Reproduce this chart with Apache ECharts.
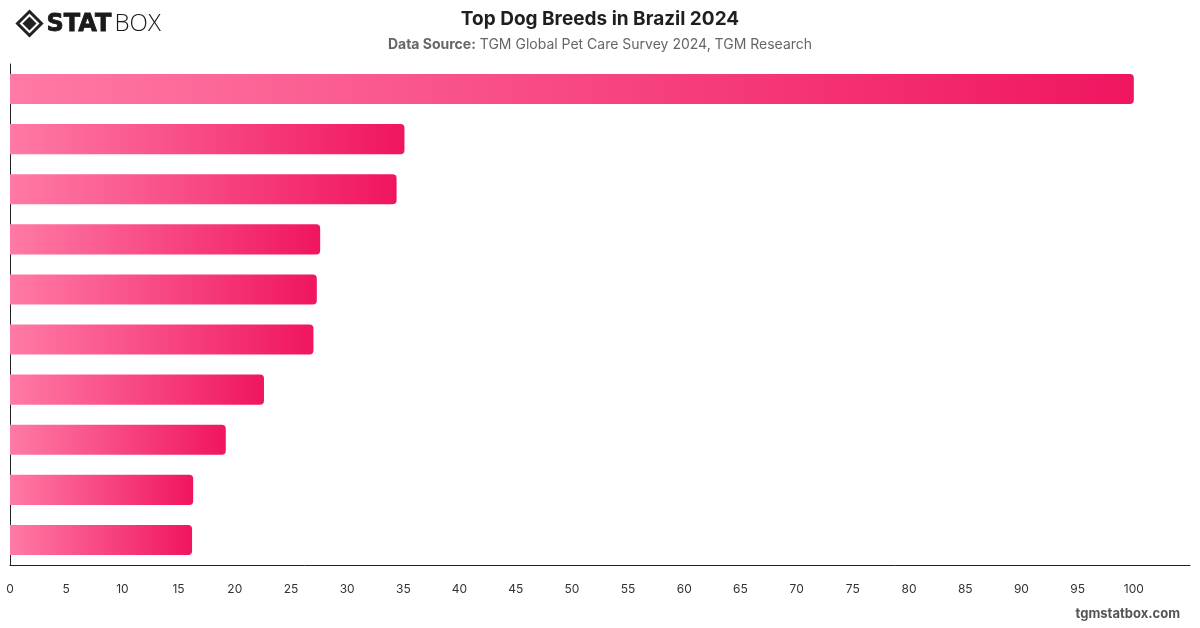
<!DOCTYPE html>
<html>
<head>
<meta charset="utf-8">
<script src="https://cdn.jsdelivr.net/npm/echarts@6/dist/echarts.min.js"></script>
<style>
  html, body { margin: 0; padding: 0; background: #fff; }
  #chart { width: 1200px; height: 628px; }
</style>
</head>
<body>
<div id="chart"></div>
<script>
// breed names are not printed on the chart, so they stay generic
const breeds = ['Breed 1', 'Breed 2', 'Breed 3', 'Breed 4', 'Breed 5',
  'Breed 6', 'Breed 7', 'Breed 8', 'Breed 9', 'Breed 10'];
const shares = [100, 35.1, 34.4, 27.6, 27.3, 27.0, 22.6, 19.2, 16.3, 16.2];
const xTicks = { min: 0, max: 105, step: 5 };

const chart = echarts.init(document.getElementById('chart'));

chart.setOption({
  backgroundColor: '#fff',
  textStyle: { fontFamily: 'Inter, "Noto Sans", sans-serif' },
  title: {
    text: 'Top Dog Breeds in Brazil 2024',
    subtext: '{b|Data Source:} TGM Global Pet Care Survey 2024, TGM Research',
    left: 'center',
    top: 5,
    itemGap: 9,
    textStyle: { fontSize: 19, fontWeight: 'bold', color: '#1f1f1f', fontFamily: 'Inter, sans-serif' },
    subtextStyle: {
      fontSize: 14, color: '#666', fontFamily: 'Inter, sans-serif',
      rich: { b: { fontSize: 14, fontWeight: 'bold', color: '#666', fontFamily: 'Inter, sans-serif' } }
    }
  },
  grid: { left: 10, right: 10, top: 64, bottom: 63, containLabel: false },
  xAxis: {
    type: 'value',
    min: xTicks.min,
    max: xTicks.max,
    interval: xTicks.step,
    axisLine: { show: true, lineStyle: { color: '#222', width: 1 } },
    axisTick: { show: false },
    splitLine: { show: false },
    axisLabel: { color: '#333', fontSize: 12, margin: 18, showMaxLabel: false }
  },
  yAxis: {
    type: 'category',
    data: breeds,
    inverse: true,
    axisLine: { show: true, lineStyle: { color: '#222', width: 1 } },
    axisTick: { show: false },
    axisLabel: { show: false }
  },
  series: [{
    type: 'bar',
    data: shares,
    barWidth: '60%',
    itemStyle: {
      borderRadius: [0, 4, 4, 0],
      color: new echarts.graphic.LinearGradient(0, 0, 1, 0, [
        { offset: 0, color: '#ff7aa5' },
        { offset: 1, color: '#f01560' }
      ])
    }
  }],
  graphic: [
    // STATBOX logo
    {
      type: 'group', left: 15, top: 9,
      children: [
        { type: 'polygon', shape: { points: [[12, 0], [24, 12], [12, 24], [0, 12]] },
          style: { fill: 'none', stroke: '#222', lineWidth: 3 } },
        { type: 'polygon', shape: { points: [[12, 5], [19, 12], [12, 19], [5, 12]] },
          style: { fill: '#222' } },
        { type: 'text', x: 29, y: 1,
          style: { text: 'STAT', font: '900 24px "DejaVu Sans", sans-serif', fill: '#1a1a1a',
            stroke: '#1a1a1a', lineWidth: 0.8 } },
        { type: 'text', x: 97, y: 1,
          style: { text: 'BOX', font: '300 24px "Open Sans", sans-serif', fill: '#1a1a1a' } }
      ]
    },
    {
      type: 'text', right: 20, top: 608,
      style: { text: 'tgmstatbox.com', font: 'bold 13px Inter, sans-serif', fill: '#555' }
    }
  ]
});
</script>
</body>
</html>
